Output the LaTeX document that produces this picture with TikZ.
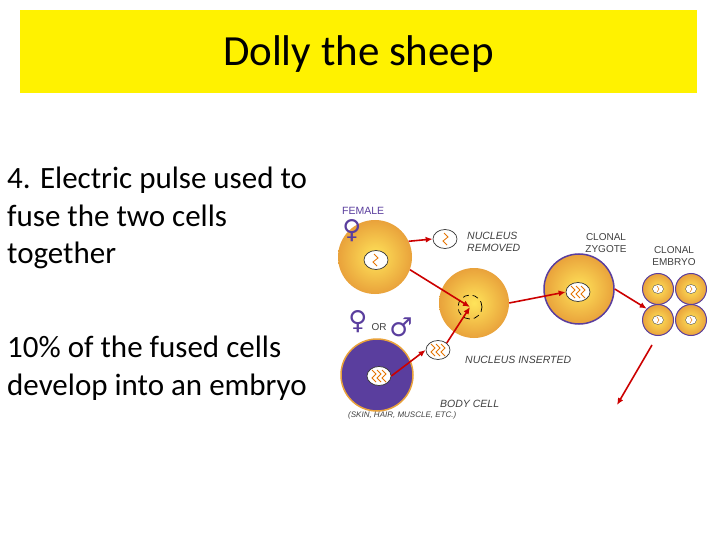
\documentclass[tikz,border=0pt]{standalone}
\usepackage{fontspec}
\usetikzlibrary{shapes.geometric,arrows.meta}
\setmainfont{Carlito}
\newfontfamily\lab{Liberation Sans}
\newfontfamily\dejav{DejaVu Sans}
\definecolor{purp}{HTML}{5A3E9E}
\definecolor{cellout}{HTML}{E9A23B}
\definecolor{cellin}{HTML}{FFE45A}
\begin{document}
\begin{tikzpicture}[x=1pt,y=-1pt,
 cell/.style={circle,draw=none,inner color=cellin,outer color=cellout,minimum size=#1},
 nuc/.style={ellipse,draw=black!80,fill=white,line width=0.7pt,minimum width=24pt,minimum height=19pt,inner sep=0pt},
 sq/.style={orange!90!black,line width=0.8pt},
 arr/.style={-{Latex[length=7pt,width=6pt]},red!80!black,line width=1.6pt},
 lbl/.style={font=\lab\itshape\fontsize{10.5}{12}\selectfont,text=black!75,align=left,anchor=west,inner sep=0pt},
 caplbl/.style={font=\lab\fontsize{10}{12}\selectfont,text=black!75,align=center,inner sep=0pt},
 sym/.style={font=\dejav\bfseries\fontsize{26}{26}\selectfont,text=purp,inner sep=0pt},
 body/.style={font=\fontsize{31}{37.5}\selectfont,align=left,anchor=north west,inner sep=0pt}]
\useasboundingbox (0,0) rectangle (720,540);
\fill[white] (0,0) rectangle (720,540);
\node[fill=yellow,minimum width=677pt,minimum height=83pt,inner sep=0pt] (title) at (358.5,51.5) {};
\node[font=\fontsize{43}{46}\selectfont,inner sep=0pt] (ttext) at (358.5,54.5) {Dolly the sheep};
\node[body] (t1) at (7,167) {4. Electric pulse used to\\fuse the two cells\\together};
\node[body] (t2) at (7,336) {10\% of the fused cells\\develop into an embryo};
% female egg
\node[font=\lab\fontsize{10.5}{11}\selectfont,text=purp,anchor=west,inner sep=0pt] (fem) at (342,211) {FEMALE};
\node[cell=74pt] (egg1) at (375,257) {};
\node[sym] (fs1) at (352,231) {♀};
\node[nuc] (n1) at (376,260) {};
\draw[sq] (374,254) -- (378,258) -- (373,262) -- (377,266);
\node[nuc] (nr) at (445,239) {};
\draw[sq] (444,233) -- (448,237) -- (443,241) -- (447,245);
\node[lbl] (nrl) at (467,242) {NUCLEUS\\REMOVED};
% egg 2
\node[cell=70pt] (egg2) at (474,303) {};
\draw[dash pattern=on 6pt off 4pt,line width=0.7pt] (470,307) circle (12pt);
\coordinate (c2) at (470,307);
% body cell
\node[circle,fill=purp,draw=cellout,line width=1.5pt,minimum size=72pt] (bodyc) at (377,375) {};
\node[nuc] (n2) at (379,376) {};
\node[nuc] (ni) at (438,350) {};
\foreach \cx/\cy in {379/376,438/350}{
 \foreach \dx in {-5,0,5}{
  \draw[sq] (\cx+\dx-2,\cy-6) -- (\cx+\dx+2,\cy-2) -- (\cx+\dx-2,\cy+2) -- (\cx+\dx+2,\cy+6);}}
\node[lbl] (nil) at (465,360) {NUCLEUS INSERTED};
\node[sym] (fs2) at (358,322) {♀};
\node[caplbl] (or) at (379,327) {OR};
\node[sym] (ms) at (401,327) {♂};
\node[lbl] (bcl) at (440,404) {BODY CELL};
\node[lbl,font=\lab\itshape\fontsize{8}{9}\selectfont] (bcd) at (348,415) {(SKIN, HAIR, MUSCLE, ETC.)};
% zygote
\node[cell=70pt,draw=purp,line width=1.5pt] (zyg) at (579,289) {};
\node[nuc] (n3) at (578,292) {};
\foreach \dx in {-5,0,5}{
  \draw[sq] (578+\dx-2,286) -- (578+\dx+2,290) -- (578+\dx-2,294) -- (578+\dx+2,298);}
\node[caplbl] (zl) at (606,243) {CLONAL\\ZYGOTE};
% embryo
\foreach \n/\x/\y in {e1/658/289,e2/691/289,e3/658/320,e4/691/320}{
 \node[cell=31pt,draw=purp,line width=1pt] (\n) at (\x,\y) {};
 \node[ellipse,draw=black!70,fill=white,minimum width=11pt,minimum height=9pt,inner sep=0pt] at (\x,\y) {};
 \draw[orange!90!black,line width=0.5pt] (\x-1,\y-3) -- (\x+1,\y) -- (\x-1,\y+3);
}
\node[caplbl] (el) at (674,256) {CLONAL\\EMBRYO};
% arrows
\draw[arr] (egg1.25) -- (nr.west);
\draw[arr] (egg1.-20) -- (c2);
\draw[arr] (n2.east) -- (ni.west);
\draw[arr] (ni.north east) -- (c2);
\draw[arr] (egg2.east) -- (n3.west);
\draw[arr] (zyg.east) -- (e3.north west);
\coordinate (a1) at (652,345);
\coordinate (a2) at (617,405);
\draw[arr] (a1) -- (a2);
\end{tikzpicture}
\end{document}
